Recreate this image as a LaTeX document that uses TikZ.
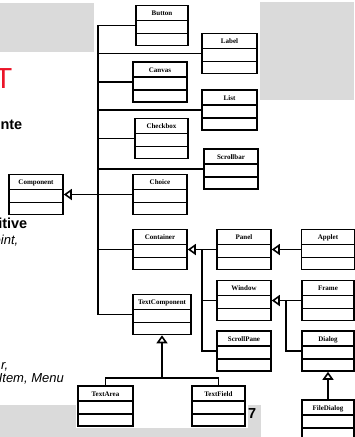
\documentclass[tikz,border=0pt]{standalone}
\usepackage{fontspec}
\setmainfont{Liberation Sans}
\newfontfamily\clsfont{Liberation Serif}
\usetikzlibrary{arrows.meta}
\definecolor{slidegray}{RGB}{218,218,218}
\definecolor{slidered}{RGB}{235,20,40}
\begin{document}
\begin{tikzpicture}[x=1pt,y=-1pt,
  cls/.style={draw, line width=1.6pt, minimum width=#1, minimum height=40pt,
    inner sep=0pt, text height=10pt, text depth=30pt, fill=white,
    font=\clsfont\bfseries\fontsize{7}{8}\selectfont,
    path picture={
      \draw[line width=1.6pt] ([yshift=-15pt]path picture bounding box.north west) -- ([yshift=-15pt]path picture bounding box.north east);
      \draw[line width=1.6pt] ([yshift=-28pt]path picture bounding box.north west) -- ([yshift=-28pt]path picture bounding box.north east);}},
  cls/.default=53pt,
  conn/.style={line width=1.6pt},
  inh/.style={conn, -{Triangle[open, length=8pt, width=11pt]}},
  bg/.style={fill=slidegray, draw=none},
  slidetext/.style={inner sep=0pt, text=black},
  big/.style={slidetext, font=\fontsize{14.5}{17}\selectfont\bfseries},
  ital/.style={slidetext, font=\fontsize{13}{15}\selectfont\itshape}
]
\useasboundingbox (0,0) rectangle (354,437);
% slide background
\fill[bg] (0,3) rectangle (94,52);
\fill[bg] (260,2) rectangle (354,100);
\fill[bg] (0,405) rectangle (261,437);
\fill[white] (76,405) rectangle (248,428);

% slide texts
\node[anchor=base east, inner sep=0pt, text=slidered, font=\fontsize{29}{34}\selectfont] (tt) at (12.6,88) {T};
\node[big, anchor=base east] (nte) at (22.5,129) {nte};
\node[big, anchor=base east] (itive) at (27.5,228) {itive};
\node[ital, anchor=base east] (oint) at (18.5,244) {oint,};
\node[ital, anchor=base east] (rr) at (8.5,369) {r,};
\node[ital, anchor=base east] (item) at (64,382) {Item, Menu};
\node[big, anchor=base west] (seven) at (248,418) {7};

% classes
\node[cls=54pt] (component) at (36,194.5) {Component};
\node[cls=52pt] (button) at (162,25.5) {Button};
\node[cls=55pt] (label) at (229.5,53.5) {Label};
\node[cls=54pt] (canvas) at (160,82) {Canvas};
\node[cls=55pt] (list) at (229.5,110) {List};
\node[cls=53pt] (checkbox) at (161.5,138.5) {Checkbox};
\node[cls=54pt] (scrollbar) at (231,169) {Scrollbar};
\node[cls=54pt] (choice) at (160,194.5) {Choice};
\node[cls=54pt] (container) at (160,249.5) {Container};
\node[cls=54pt] (panel) at (244,249.5) {Panel};
\node[cls=53pt] (applet) at (328,249.5) {Applet};
\node[cls=54pt] (window) at (244,300.5) {Window};
\node[cls=52pt] (frame) at (328,300.5) {Frame};
\node[cls=54pt] (scrollpane) at (244,351) {ScrollPane};
\node[cls=52pt] (dialog) at (328,351) {Dialog};
\node[cls=52pt] (filedialog) at (328,420) {FileDialog};
\node[cls=58pt] (textcomp) at (162,314.5) {TextComponent};
\node[cls=55pt] (textarea) at (105.5,406) {TextArea};
\node[cls=53pt] (textfield) at (218.5,406) {TextField};

% connectors
\coordinate (bustop) at (98,25.5);
\coordinate (busbot) at (98,314.5);
\draw[conn] (button.west) -- (bustop) -- (busbot) -- (textcomp.west);
\foreach \n in {label,canvas,list,checkbox,scrollbar,container}
  \draw[conn] (\n.west) -- (\n.west -| bustop);
\draw[inh] (choice.west) -- (component.east);

\coordinate (j1) at (202,249.5);
\draw[inh] (j1) -- (container.east);
\draw[conn] (panel.west) -- (j1) -- (j1 |- scrollpane.west) -- (scrollpane.west);
\draw[conn] (window.west) -- (window.west -| j1);
\draw[inh] (applet.west) -- (panel.east);

\coordinate (j2) at (286,300.5);
\draw[inh] (j2) -- (window.east);
\draw[conn] (frame.west) -- (j2) -- (j2 |- dialog.west) -- (dialog.west);
\draw[inh] (filedialog.north) -- (dialog.south);

\coordinate (j3) at (162,378);
\draw[inh] (j3) -- (textcomp.south);
\draw[conn] (textarea.north) |- (j3) -| (textfield.north);
\end{tikzpicture}
\end{document}
